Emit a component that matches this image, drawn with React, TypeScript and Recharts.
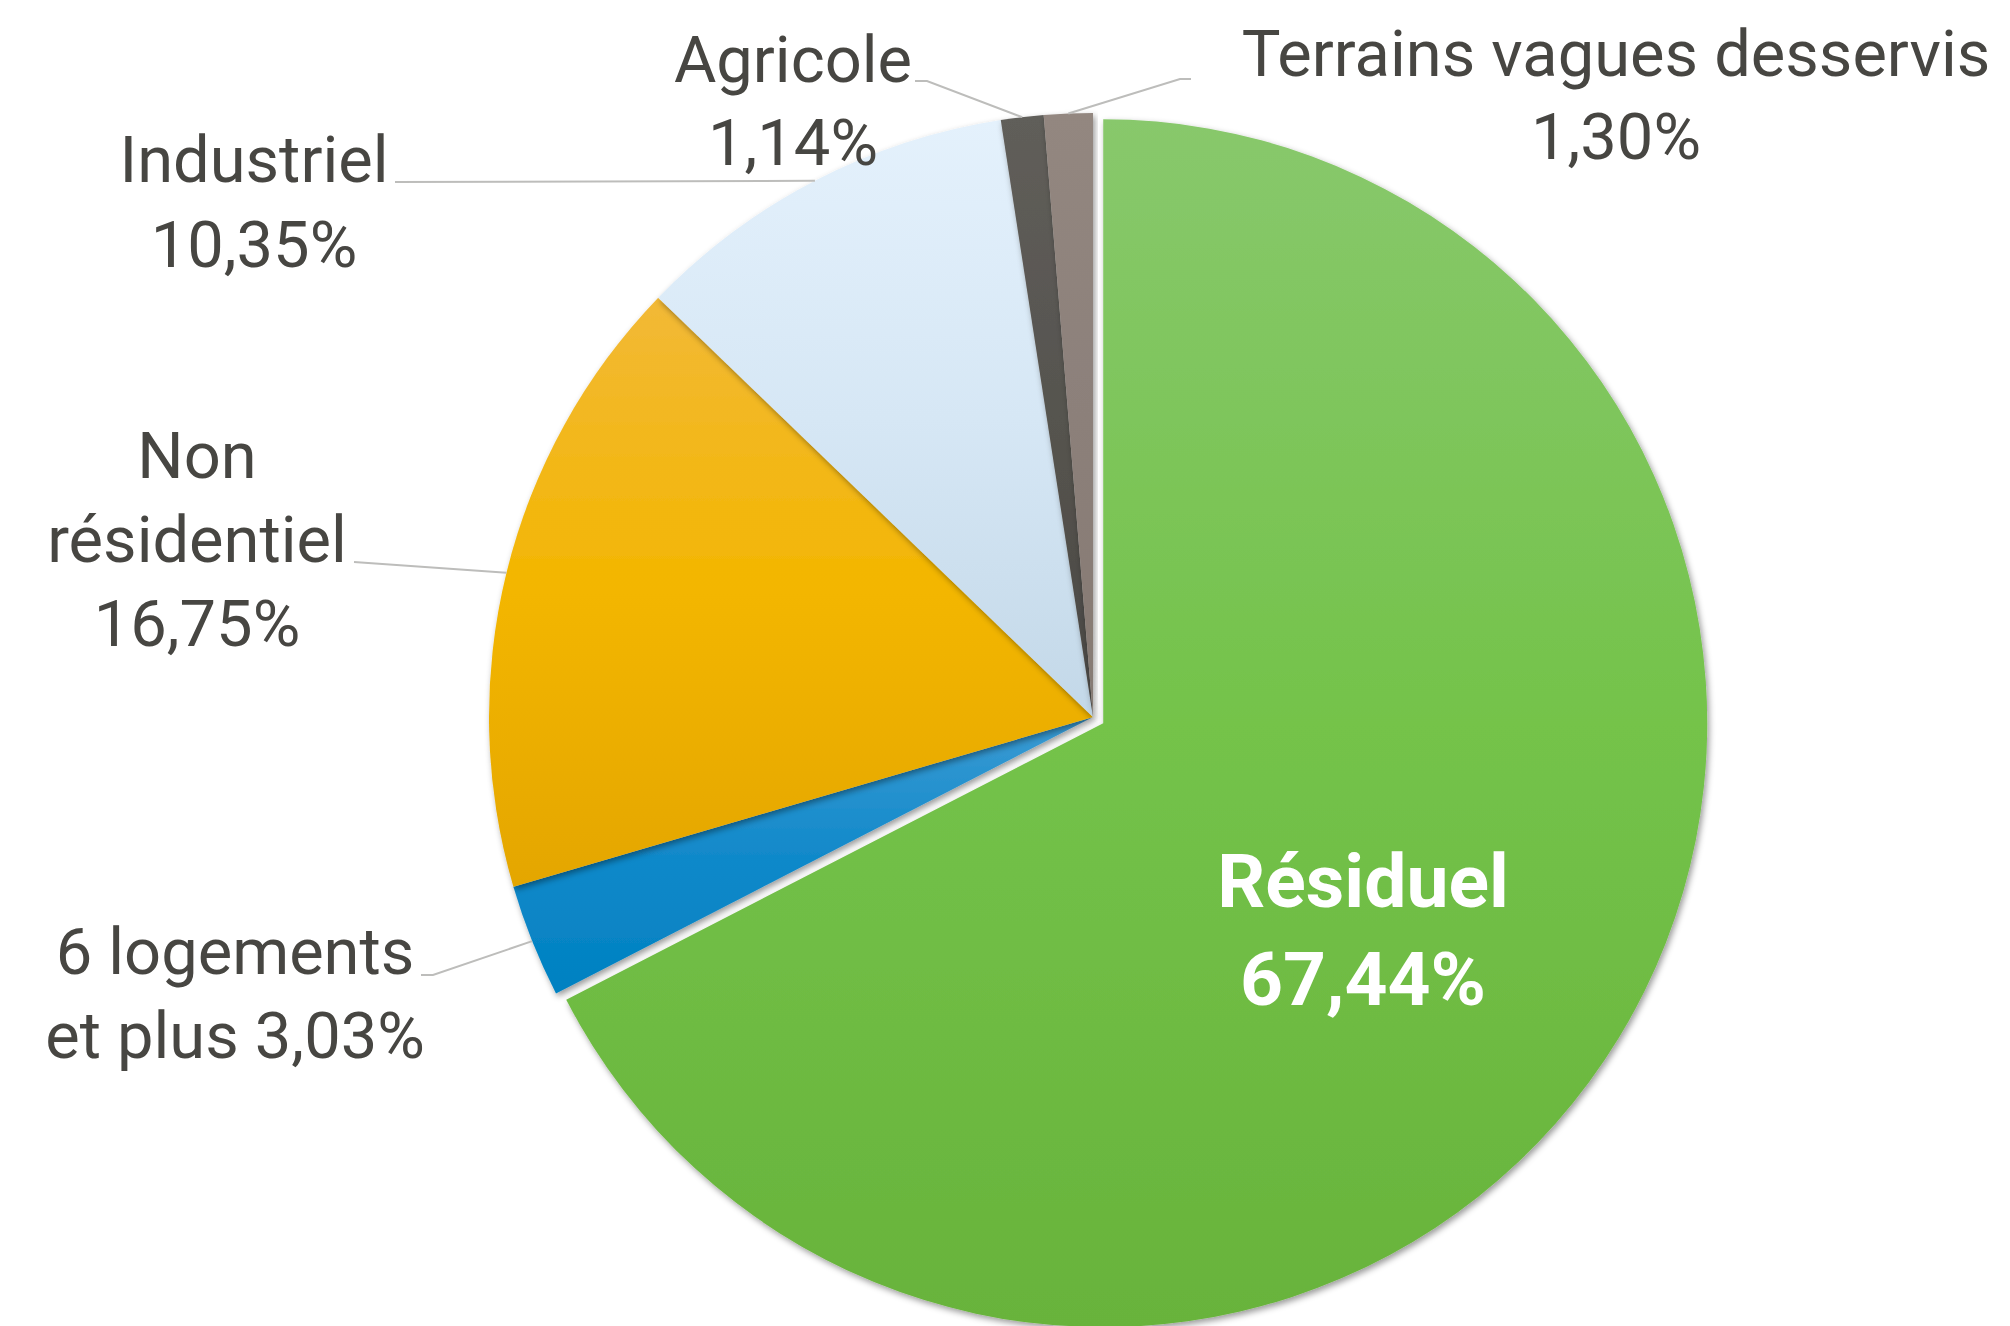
import { Cell, Pie, PieChart } from 'recharts';

// valeurs (part du territoire, en %)
const categories = [
  'Résiduel',
  '6 logements et plus',
  'Non résidentiel',
  'Industriel',
  'Agricole',
  'Terrains vagues desservis',
];
const shares = [67.44, 3.03, 16.75, 10.35, 1.14, 1.3];

const chartData = categories.map((name, i) => ({ name, value: shares[i] }));

// dégradés verticaux des secteurs (haut, milieu, bas)
const sliceGradients = [
  ['#88c86c', '#74c34a', '#68b33b'],
  ['#3c9bd3', '#1189ca', '#0081c1'],
  ['#f2b937', '#f3b600', '#e4a600'],
  ['#e4f1fc', '#d6e7f5', '#c3d8e8'],
  ['#605e5a', '#56544f', '#4a4844'],
  ['#938780', '#8c807a', '#867a73'],
];

const CX = 1093;
const CY = 717;
const RADIUS = 604;
const EXPLODE = 12;
const TEXT_COLOR = '#474642';
const LINE_COLOR = '#bdbdbb';

interface LabelLayout {
  x: number;
  y: number;
  lineHeight: number;
  size: number;
  bold?: boolean;
  fill: string;
  wordsPerRow: number[];
  pctInline?: boolean;
  leader: [number, number][] | null;
}

const labelLayout: LabelLayout[] = [
  { x: 1363, y: 907, lineHeight: 98, size: 75, bold: true, fill: '#ffffff', wordsPerRow: [1], leader: null },
  { x: 235, y: 974, lineHeight: 84, size: 65, fill: TEXT_COLOR, wordsPerRow: [2], pctInline: true, leader: [[433, 975], [421, 975]] },
  { x: 197, y: 478, lineHeight: 84, size: 65, fill: TEXT_COLOR, wordsPerRow: [1, 1], leader: [[354, 562]] },
  { x: 254, y: 182, lineHeight: 85, size: 65, fill: TEXT_COLOR, wordsPerRow: [1], leader: [[395, 182]] },
  { x: 793, y: 82, lineHeight: 83, size: 65, fill: TEXT_COLOR, wordsPerRow: [1], leader: [[927, 81], [915, 81]] },
  { x: 1616, y: 76, lineHeight: 83, size: 65, fill: TEXT_COLOR, wordsPerRow: [3], leader: [[1180, 79], [1191, 79]] },
];

function formatPct(value: number): string {
  return `${value.toFixed(2).replace('.', ',')}%`;
}

function labelRows(name: string, value: number, layout: LabelLayout): string[] {
  const words = name.split(' ');
  const rows: string[] = [];
  let i = 0;
  for (const n of layout.wordsPerRow) {
    rows.push(words.slice(i, i + n).join(' '));
    i += n;
  }
  if (i < words.length) {
    rows.push(words.slice(i).join(' '));
  }
  if (layout.pctInline) {
    rows[rows.length - 1] += ` ${formatPct(value)}`;
  } else {
    rows.push(formatPct(value));
  }
  return rows;
}

function renderLabel(props: any) {
  const { index, name, value } = props;
  const layout = labelLayout[index];
  if (!layout) return null;
  const rows = labelRows(name, value, layout);
  return (
    <text
      key={`label-${index}`}
      x={layout.x}
      y={layout.y}
      textAnchor="middle"
      fill={layout.fill}
      fontFamily="Roboto, 'Noto Sans', sans-serif"
      fontSize={layout.size}
      fontWeight={layout.bold ? 700 : 400}
    >
      {rows.map((row, r) => (
        <tspan key={r} x={layout.x} y={layout.y + r * layout.lineHeight}>
          {row}
        </tspan>
      ))}
    </text>
  );
}

function renderLabelLine(props: any) {
  const { index, points } = props;
  const layout = labelLayout[index];
  if (!layout || !layout.leader || !points) return <g key={`line-${index}`} />;
  const start = points[0];
  const pts = [[start.x, start.y], ...layout.leader].map((p) => p.join(',')).join(' ');
  return (
    <polyline
      key={`line-${index}`}
      points={pts}
      fill="none"
      stroke={LINE_COLOR}
      strokeWidth={2}
    />
  );
}

export default function App() {
  const total = shares.reduce((a, b) => a + b, 0);
  // le secteur « Résiduel » est légèrement détaché
  const midAngle = ((90 - (shares[0] / total) * 180) * Math.PI) / 180;
  const dx = EXPLODE * Math.cos(midAngle);
  const dy = -EXPLODE * Math.sin(midAngle);

  return (
    <div style={{ position: 'absolute', left: 0, top: 0, width: 2010, height: 1326, background: '#fff' }}>
      <PieChart width={2010} height={1326} margin={{ top: 0, right: 0, bottom: 0, left: 0 }}>
        <defs>
          <filter id="sliceShadow" x="-10%" y="-10%" width="120%" height="120%">
            <feDropShadow dx="2" dy="3" stdDeviation="3" floodColor="#000" floodOpacity="0.4" />
          </filter>
          {sliceGradients.map((stops, i) => (
            <linearGradient key={i} id={`slice-${i}`} x1="0" y1="0" x2="0" y2="1">
              <stop offset="0%" stopColor={stops[0]} />
              <stop offset="50%" stopColor={stops[1]} />
              <stop offset="100%" stopColor={stops[2]} />
            </linearGradient>
          ))}
        </defs>
        <Pie
          data={chartData}
          dataKey="value"
          nameKey="name"
          cx={CX}
          cy={CY}
          outerRadius={RADIUS}
          startAngle={90}
          endAngle={-270}
          stroke="none"
          label={renderLabel}
          labelLine={renderLabelLine}
          isAnimationActive={false}
        >
          {chartData.map((entry, i) => (
            <Cell
              key={entry.name}
              fill={`url(#slice-${i})`}
              filter="url(#sliceShadow)"
              transform={i === 0 ? `translate(${dx.toFixed(2)},${dy.toFixed(2)})` : undefined}
            />
          ))}
        </Pie>
      </PieChart>
    </div>
  );
}
